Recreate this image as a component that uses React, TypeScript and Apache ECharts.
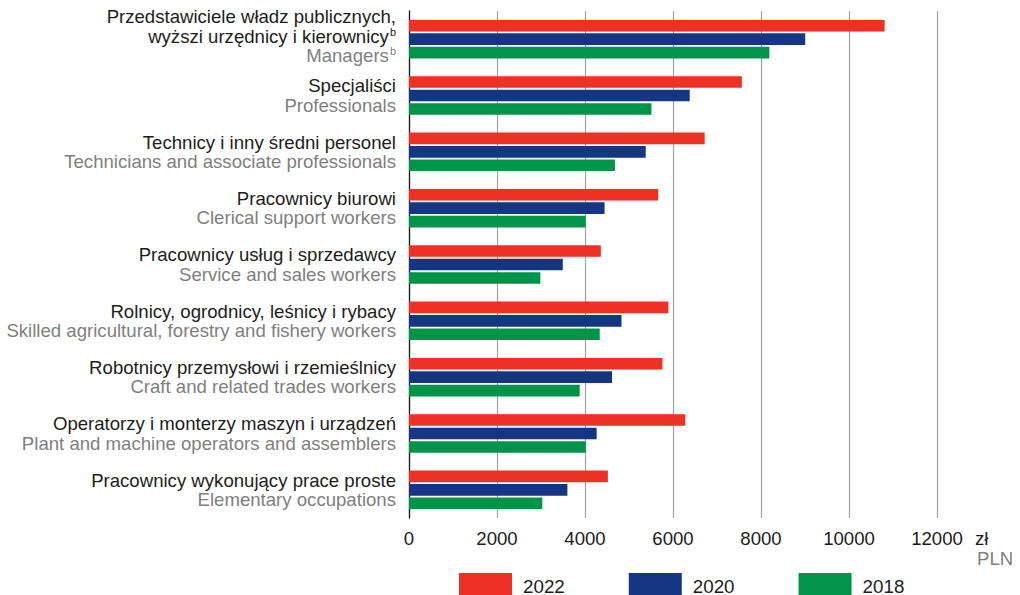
import React, { useEffect, useRef } from "react";
import * as echarts from "echarts";

const categoriesPl = [
  "Przedstawiciele władz publicznych,\nwyższi urzędnicy i kierownicy",
  "Specjaliści",
  "Technicy i inny średni personel",
  "Pracownicy biurowi",
  "Pracownicy usług i sprzedawcy",
  "Rolnicy, ogrodnicy, leśnicy i rybacy",
  "Robotnicy przemysłowi i rzemieślnicy",
  "Operatorzy i monterzy maszyn i urządzeń",
  "Pracownicy wykonujący prace proste",
];

const categoriesEn = [
  "Managers",
  "Professionals",
  "Technicians and associate professionals",
  "Clerical support workers",
  "Service and sales workers",
  "Skilled agricultural, forestry and fishery workers",
  "Craft and related trades workers",
  "Plant and machine operators and assemblers",
  "Elementary occupations",
];

const footnoteMark = "b";

const seriesNames = ["2022", "2020", "2018"];
const values2022 = [10810, 7565, 6720, 5665, 4360, 5895, 5760, 6280, 4520];
const values2020 = [9005, 6380, 5380, 4445, 3495, 4830, 4615, 4265, 3600];
const values2018 = [8190, 5510, 4680, 4015, 2985, 4335, 3880, 4020, 3030];

const xTicks = [0, 2000, 4000, 6000, 8000, 10000, 12000];
const unitPl = "zł";
const unitEn = "PLN";

const COLORS = ["#EE3124", "#163684", "#00944A"];
const FONT = "'Liberation Sans', Arial, Helvetica, sans-serif";
const BLACK = "#1d1d1b";
const GRAY = "#808080";
const LABEL_SIZE = 18.6;

function labelFor(index: number): string {
  const pl = categoriesPl[index];
  const en = categoriesEn[index];
  if (index === 0) {
    const [l1, l2] = pl.split("\n");
    return `{pl|${l1}}\n{pl|${l2}}{sup|${footnoteMark}}\n{en|${en}}{supEn|${footnoteMark}}`;
  }
  return `{pl|${pl}}\n{en|${en}}`;
}

export default function App() {
  const ref = useRef<HTMLDivElement>(null);

  useEffect(() => {
    if (!ref.current) return;
    const chart = echarts.init(ref.current, undefined, { renderer: "svg" });
    const data = [values2022, values2020, values2018];

    chart.setOption({
      animation: false,
      backgroundColor: "#ffffff",
      textStyle: { fontFamily: FONT },
      grid: { left: 409, right: 83, top: 11, bottom: 77, containLabel: false },
      xAxis: {
        type: "value",
        min: xTicks[0],
        max: xTicks[xTicks.length - 1],
        interval: 2000,
        axisLine: { show: false },
        axisTick: { show: false },
        axisLabel: {
          color: BLACK,
          fontSize: 18.6,
          fontFamily: FONT,
          margin: 11,
          formatter: (v: number) => String(v),
        },
        splitLine: { show: true, lineStyle: { color: "#a3a3a3", width: 1.2 } },
      },
      yAxis: {
        type: "category",
        inverse: true,
        data: categoriesPl.map((_, i) =>
          i === 0
            ? { value: String(i), textStyle: { padding: [0, 0, 6, 0] } }
            : String(i)
        ),
        axisLine: { show: true, lineStyle: { color: "#1d1d1b", width: 1.3 } },
        axisTick: { show: false },
        axisLabel: {
          margin: 13,
          align: "right",
          formatter: (_v: string, i: number) => labelFor(i),
          rich: {
            pl: { fontSize: LABEL_SIZE, color: BLACK, lineHeight: 19.5, fontFamily: FONT, align: "right" },
            en: { fontSize: LABEL_SIZE, color: GRAY, lineHeight: 19.5, fontFamily: FONT, align: "right" },
            sup: { fontSize: 11, color: BLACK, lineHeight: 12, verticalAlign: "top", fontFamily: FONT, align: "right", padding: [0, 0, 0, 1] },
            supEn: { fontSize: 11, color: GRAY, lineHeight: 12, verticalAlign: "top", fontFamily: FONT, align: "right", padding: [0, 0, 0, 1] },
          },
        },
      },
      legend: {
        left: 454,
        top: 568,
        itemWidth: 53,
        itemHeight: 26,
        itemGap: 64,
        icon: "rect",
        data: seriesNames,
        textStyle: { fontSize: 18.8, color: BLACK, fontFamily: FONT, padding: [0, 0, 0, 6] },
      },
      series: seriesNames.map((name, s) => ({
        name,
        type: "bar",
        data: data[s],
        barWidth: 11.6,
        barGap: "16%",
        itemStyle: { color: COLORS[s] },
      })),
      graphic: [
        {
          type: "text",
          left: 975,
          top: 529,
          style: { text: unitPl, fontSize: 18.6, fill: BLACK, fontFamily: FONT },
        },
        {
          type: "text",
          left: 977,
          top: 549,
          style: { text: unitEn, fontSize: 18.6, fill: GRAY, fontFamily: FONT },
        },
      ],
    });

    return () => chart.dispose();
  }, []);

  return (
    <div
      ref={ref}
      style={{ position: "absolute", left: 0, top: 0, width: 1020, height: 595 }}
    />
  );
}
